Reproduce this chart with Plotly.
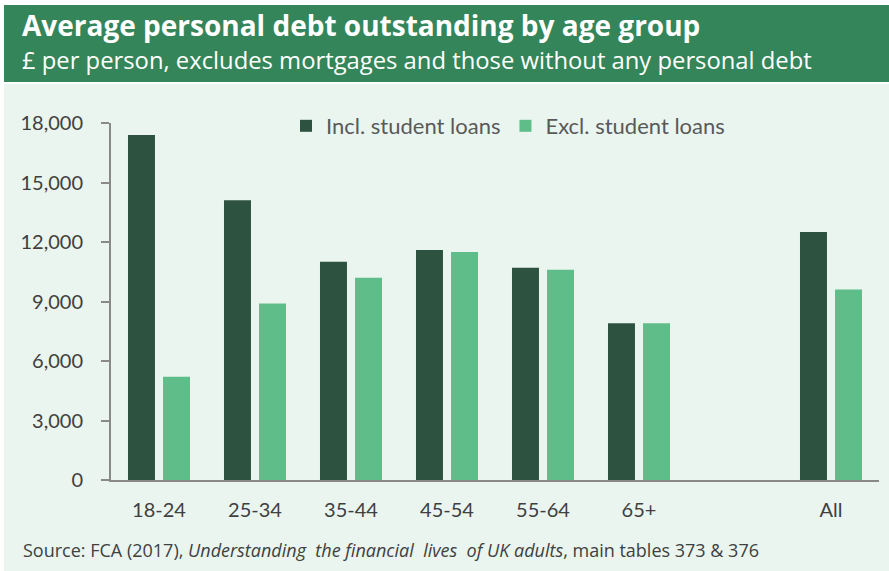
import plotly.graph_objects as go

# Age groups (blank slot keeps a gap before the overall figure)
categories = ["18-24", "25-34", "35-44", "45-54", "55-64", "65+", " ", "All"]
incl_student_loans = [17400, 14100, 11000, 11600, 10700, 7900, None, 12500]
excl_student_loans = [5200, 8900, 10200, 11500, 10600, 7900, None, 9600]
y_ticks = [0, 3000, 6000, 9000, 12000, 15000, 18000]
y_tick_labels = ["0", "3,000", "6,000", "9,000", "12,000", "15,000", "18,000"]

W, H = 889, 571
L, R, T, B = 111, 10, 123, 91
PW, PH = W - L - R, H - T - B

DARK = "#2D5240"
LIGHT = "#5FBD8A"
HEADER = "#35855A"
MINT = "#EAF5EF"
TEXT = "#404040"
FONT = "Lato"
HEAD_FONT = "Open Sans"


def px(x):
    return (x - L) / PW


def py(y):
    return (H - B - y) / PH


fig = go.Figure()
fig.add_trace(go.Bar(name="Incl. student loans", x=categories, y=incl_student_loans,
                     marker=dict(color=DARK, line=dict(width=0))))
fig.add_trace(go.Bar(name="Excl. student loans", x=categories, y=excl_student_loans,
                     marker=dict(color=LIGHT, line=dict(width=0))))

shapes = [
    dict(type="rect", xref="paper", yref="paper", x0=px(4), x1=px(W), y0=py(H), y1=py(84),
         fillcolor=MINT, line=dict(width=0), layer="below"),
    dict(type="rect", xref="paper", yref="paper", x0=px(4), x1=px(W), y0=py(82), y1=py(5),
         fillcolor=HEADER, line=dict(width=0), layer="below"),
]

annotations = [
    dict(text="<b>Average personal debt outstanding by age group</b>", xref="paper", yref="paper",
         x=px(20), y=py(25), xanchor="left", yanchor="middle", showarrow=False,
         font=dict(family=HEAD_FONT, size=28, color="white")),
    dict(text="£ per person, excludes mortgages and those without any personal debt",
         xref="paper", yref="paper", x=px(20), y=py(60), xanchor="left", yanchor="middle",
         showarrow=False, font=dict(family=HEAD_FONT, size=23.8, color="white")),
    dict(text="Source: FCA (2017), <i>Understanding  the financial  lives  of UK adults</i>, main tables 373 &amp; 376",
         xref="paper", yref="paper", x=px(21), y=py(550), xanchor="left", yanchor="middle",
         showarrow=False, font=dict(family=HEAD_FONT, size=18, color=TEXT)),
]

fig.update_layout(
    width=W, height=H,
    margin=dict(l=L, r=R, t=T, b=B, pad=0),
    paper_bgcolor="white", plot_bgcolor=MINT,
    barmode="group", bargap=0.27, bargroupgap=0.23,
    font=dict(family=FONT, color=TEXT),
    shapes=shapes, annotations=annotations,
    legend=dict(orientation="h", x=px(286), y=py(126), xanchor="left", yanchor="middle",
                font=dict(family=FONT, size=22, color="#595959"), bgcolor="rgba(0,0,0,0)",
                traceorder="normal"),
    xaxis=dict(type="category", categoryorder="array", categoryarray=categories,
               showline=True, linecolor="#898989", linewidth=2, showgrid=False,
               ticks="", tickfont=dict(family=FONT, size=20, color=TEXT),
               ticklabelstandoff=11, fixedrange=True),
    yaxis=dict(range=[0, 18000], tickvals=y_ticks, ticktext=y_tick_labels,
               showline=True, linecolor="#898989", linewidth=2, showgrid=False,
               zeroline=False, ticks="outside", ticklen=8, tickcolor="#898989", tickwidth=2,
               tickfont=dict(family=FONT, size=20, color=TEXT), ticklabelstandoff=14),
)

fig.write_html("out.html")
